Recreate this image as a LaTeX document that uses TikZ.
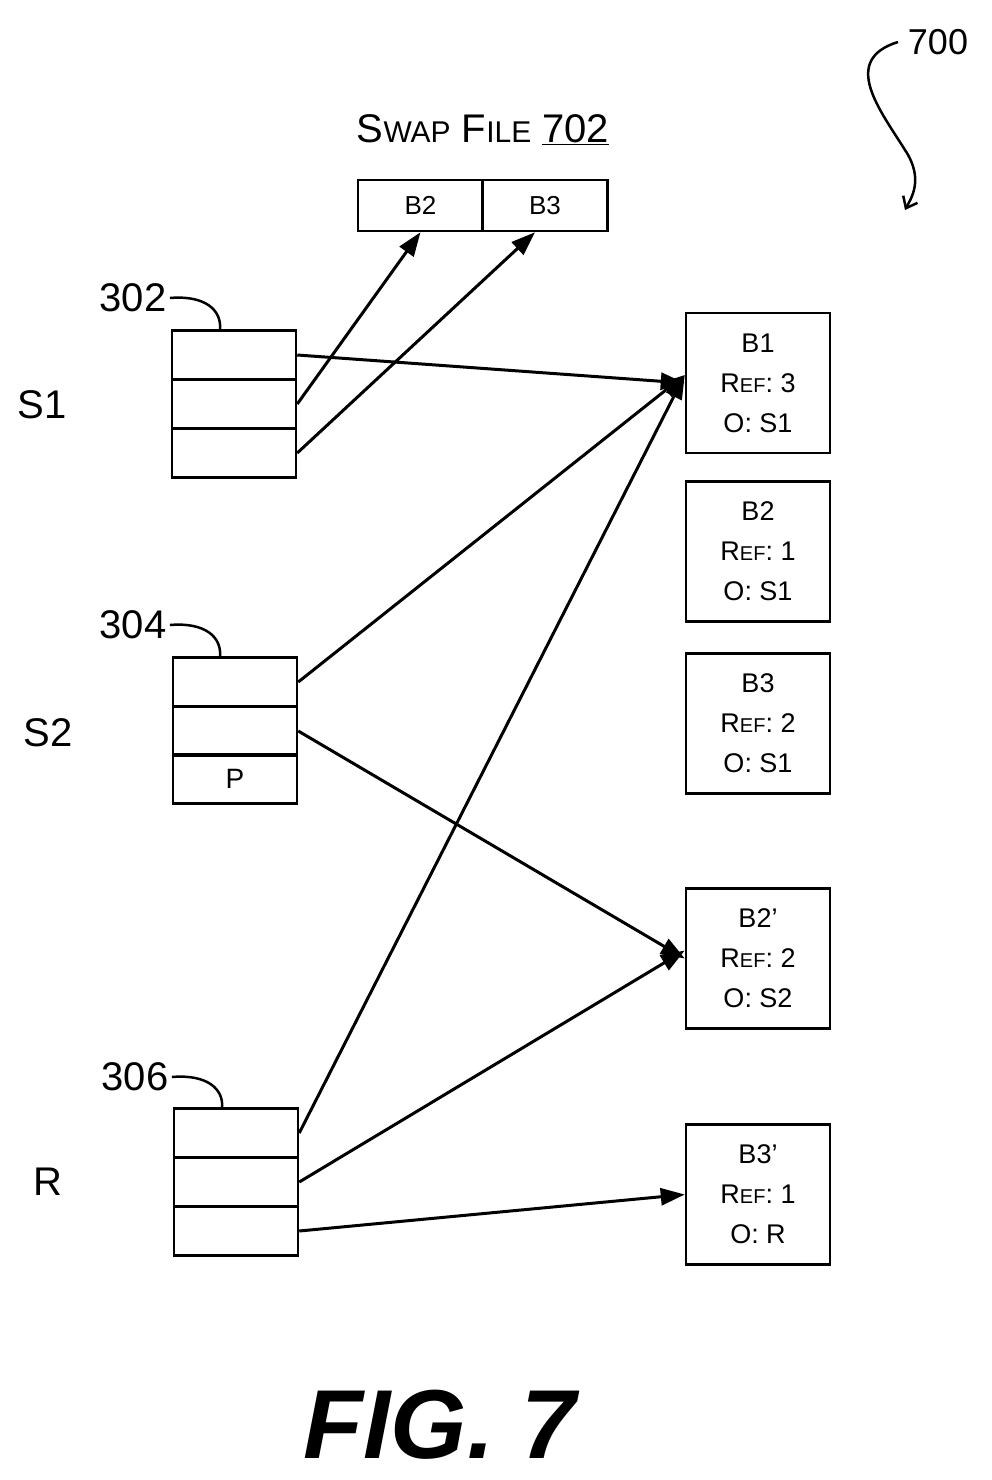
\documentclass[tikz,border=0pt]{standalone}
\usepackage{fontspec}
\setmainfont{Liberation Sans}
\usetikzlibrary{arrows.meta}
\begin{document}
\begin{tikzpicture}[x=1pt,y=-1pt,
  row/.style={draw,line width=2.5pt,minimum width=124pt,minimum height=49pt,inner sep=0pt,font=\fontsize{28}{30}\selectfont},
  blk/.style={draw,line width=2.5pt,minimum width=144pt,minimum height=140pt,inner sep=0pt,align=center,font=\fontsize{27}{40}\selectfont},
  cell/.style={draw,line width=2.5pt,minimum width=125pt,minimum height=51pt,inner sep=0pt,font=\fontsize{26}{28}\selectfont},
  lbl/.style={font=\fontsize{40}{42}\selectfont},
  arr/.style={line width=3pt,-{Triangle[length=24pt,width=17pt]}},
  lead/.style={line width=2.5pt}]
\useasboundingbox (0,0) rectangle (991,1480);
\newcommand{\rf}{R{\fontsize{20}{20}\selectfont EF}}
% swap file
\node[font=\fontsize{40}{42}\selectfont] (swt) at (483,130) {S{\fontsize{30}{30}\selectfont WAP} F{\fontsize{30}{30}\selectfont ILE} \underline{702}};
\node[cell] (sw2) at (420.5,205.5) {B2};
\node[cell] (sw3) at (545,205.5) {B3};
% 700
\node[lbl,font=\fontsize{36}{38}\selectfont] (n700) at (938,42) {700};
\coordinate (c700) at (898,42);
\coordinate (e700) at (905,210);
\draw[lead,-{Straight Barb[length=10pt,width=16pt]}] (c700) .. controls (840,60) and (880,110) .. (905,150) .. controls (925,180) and (910,200) .. (e700);
% tables
\node[row] (a1) at (234,355) {};
\node[row] (a2) at (234,404) {};
\node[row] (a3) at (234,453) {};
\node[row] (b1r) at (235,682) {};
\node[row] (b2r) at (235,731) {};
\node[row] (b3r) at (235,779) {P};
\node[row] (c1) at (236,1133) {};
\node[row] (c2) at (236,1182) {};
\node[row] (c3) at (236,1231) {};
\node[lbl] (ls1) at (42,405) {S1};
\node[lbl] (ls2) at (48,733) {S2};
\node[lbl] (lr) at (48,1182) {R};
\node[lbl] (l302) at (133,298) {302};
\node[lbl] (l304) at (133,625) {304};
\node[lbl] (l306) at (135,1077) {306};
\draw[lead] (l302.east) .. controls (205,295) and (222,310) .. (220,330);
\draw[lead] (l304.east) .. controls (205,622) and (222,637) .. (220,657);
\draw[lead] (l306.east) .. controls (207,1074) and (224,1089) .. (222,1108);
% blocks
\node[blk] (k1) at (758,383) {B1\\\rf: 3\\O: S1};
\node[blk] (k2) at (758,551.5) {B2\\\rf: 1\\O: S1};
\node[blk] (k3) at (758,723.5) {B3\\\rf: 2\\O: S1};
\node[blk] (k4) at (758,958.5) {B2'\\\rf: 2\\O: S2};
\node[blk] (k5) at (758,1194.5) {B3'\\\rf: 1\\O: R};
% arrows
\draw[arr] (a1.east) -- (k1.west);
\draw[arr] (a2.east) -- (sw2.south);
\draw[arr] (a3.east) -- ([xshift=-10pt]sw3.south);
\draw[arr] (b1r.east) -- ([yshift=8pt]k1.west);
\draw[arr] (b2r.east) -- (k4.west);
\draw[arr] (c1.east) -- ([yshift=8pt]k1.west);
\draw[arr] (c2.east) -- ([yshift=8pt]k4.west);
\draw[arr] (c3.east) -- (k5.west);
\node[font=\fontsize{98}{100}\selectfont\bfseries\itshape] (fig) at (440,1425) {FIG. 7};
\end{tikzpicture}
\end{document}
